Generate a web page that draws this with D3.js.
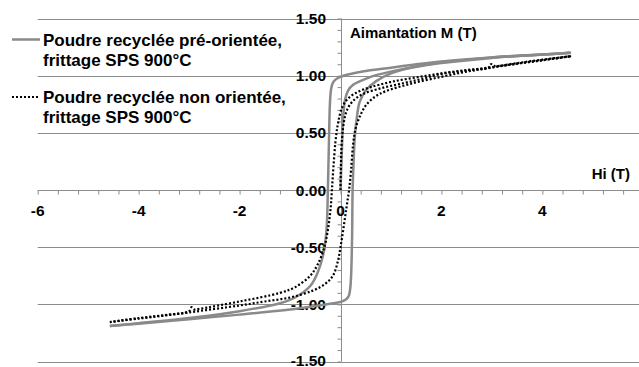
<!DOCTYPE html>
<html>
<head>
<meta charset="utf-8">
<script src="https://cdn.jsdelivr.net/npm/d3@7"></script>
<style>
  html, body { margin: 0; padding: 0; background: #fff; }
  svg { display: block; }
  text { font-family: "Liberation Sans", Arial, sans-serif; font-weight: bold; fill: #000; }
</style>
</head>
<body>
<svg id="chart" width="639" height="367"></svg>
<script>
// Hysteresis loops M(Hi) — pairs are [Hi (T), M (T)]

// Pre-oriented recycled powder, SPS 900°C
const preVirgin = [[0,0],[0.02,0.25],[0.04,0.5],[0.06,0.68],[0.09,0.79],[0.15,0.87],[0.25,0.92],[0.38,0.95],[0.6,0.99],[0.85,1.02],[1.2,1.055],[1.6,1.085],[2.0,1.11],[3.0,1.155],[4.0,1.185],[4.56,1.2]];
const preDown = [[4.56,1.2],[4,1.185],[3,1.16],[2,1.125],[1.5,1.1],[1,1.07],[0.5,1.04],[0.2,1.015],[0,0.99],[-0.1,0.965],[-0.16,0.93],[-0.19,0.87],[-0.21,0.75],[-0.23,0.4],[-0.25,0],[-0.27,-0.3],[-0.3,-0.45],[-0.35,-0.58],[-0.45,-0.72],[-0.6,-0.84],[-0.9,-0.94],[-1.2,-0.99],[-2,-1.06],[-3,-1.12],[-4,-1.165],[-4.57,-1.19]];
const preUp = [[-4.57,-1.19],[-4,-1.17],[-3,-1.13],[-2,-1.09],[-1,-1.045],[-0.5,-1.015],[-0.2,-0.995],[0,-0.98],[0.1,-0.96],[0.16,-0.93],[0.19,-0.87],[0.21,-0.75],[0.23,-0.4],[0.24,0],[0.26,0.25],[0.28,0.44],[0.32,0.62],[0.38,0.77],[0.5,0.87],[0.7,0.95],[1.0,1.02],[1.5,1.08],[2,1.115],[3,1.16],[4,1.185],[4.56,1.2]];

// Non-oriented recycled powder, SPS 900°C
const nonVirgin = [[0,0],[0.01,0.25],[0.03,0.45],[0.07,0.6],[0.13,0.7],[0.25,0.78],[0.45,0.84],[0.8,0.89],[1.2,0.93],[1.6,0.97],[2.0,1.015],[2.5,1.045],[3.0,1.075],[3.5,1.105],[4,1.135],[4.57,1.17]];
const nonDown = [[4.57,1.17],[4,1.14],[3.5,1.11],[3.05,1.085],[2.98,1.1],[2.93,1.07],[2.5,1.05],[2,1.02],[1.5,0.985],[1,0.945],[0.6,0.9],[0.35,0.86],[0.15,0.8],[0.03,0.72],[-0.05,0.58],[-0.1,0.42],[-0.14,0.2],[-0.17,0],[-0.2,-0.18],[-0.25,-0.35],[-0.32,-0.5],[-0.45,-0.65],[-0.6,-0.75],[-0.9,-0.85],[-1.2,-0.9],[-2,-0.975],[-2.8,-1.04],[-2.9,-1.045],[-2.95,-1.025],[-3.0,-1.06],[-3.5,-1.095],[-4,-1.12],[-4.57,-1.155]];
const nonUp = [[-4.57,-1.155],[-4,-1.125],[-3,-1.07],[-2,-1.01],[-1.5,-0.975],[-1,-0.94],[-0.55,-0.88],[-0.3,-0.82],[-0.15,-0.75],[-0.05,-0.62],[0,-0.5],[0.06,-0.33],[0.12,-0.15],[0.17,0],[0.21,0.18],[0.25,0.4],[0.3,0.54],[0.4,0.66],[0.52,0.75],[0.7,0.82],[0.9,0.865],[1.4,0.93],[2,0.99],[2.5,1.035],[3,1.07],[3.5,1.105],[4,1.135],[4.57,1.17]];

// Axis ticks
const xTickLabels = [-6, -4, -2, 0, 2, 4, 6];
const yTickLabels = [1.5, 1.0, 0.5, 0.0, -0.5, -1.0, -1.5];

const legendLabels = [
  ["Poudre recyclée pré-orientée,", "frittage SPS 900°C"],
  ["Poudre recyclée non orientée,", "frittage SPS 900°C"]
];
const xTitle = "Hi (T)";
const yTitle = "Aimantation M (T)";

const svg = d3.select("#chart");

const x = d3.scaleLinear().domain([-6, 6]).range([37.7, 643.3]);
const y = d3.scaleLinear().domain([-1.5, 1.5]).range([361.5, 18.5]);

const gridColor = "#8c8c8c";
const axisColor = "#8c8c8c";

// Plain hyphen for negative numbers
const fmtX = v => d3.format("d")(v).replace("\u2212", "-");
const fmtY = v => d3.format(".2f")(v).replace("\u2212", "-");

// Horizontal gridlines
svg.append("g")
  .selectAll("line")
  .data(yTickLabels.filter(v => v !== 0))
  .join("line")
  .attr("x1", x(-6)).attr("x2", 639)
  .attr("y1", d => Math.round(y(d)) + 0.5).attr("y2", d => Math.round(y(d)) + 0.5)
  .attr("stroke", gridColor).attr("stroke-width", 1);

// X axis through M = 0
const xAxis = d3.axisBottom(x)
  .tickValues(d3.range(-6, 6.01, 0.4))
  .tickSize(4)
  .tickFormat("");
const gx = svg.append("g")
  .attr("transform", `translate(0,${Math.round(y(0)) + 0.5})`)
  .call(xAxis);
gx.select(".domain").attr("stroke", axisColor).attr("d", `M${x(-6)},0H${x(6)}`);
gx.selectAll(".tick line").attr("stroke", axisColor);

// Y axis through Hi = 0
const yAxis = d3.axisLeft(y)
  .tickValues(d3.range(-15, 16).map(v => v / 10))
  .tickSize(4)
  .tickFormat("");
const gy = svg.append("g")
  .attr("transform", `translate(${Math.round(x(0)) + 0.5},0)`)
  .call(yAxis);
gy.select(".domain").attr("stroke", axisColor).attr("d", `M0,${y(1.5)}V${y(-1.5)}`);
gy.selectAll(".tick line").attr("stroke", axisColor);

// Tick labels
svg.append("g")
  .selectAll("text")
  .data(xTickLabels)
  .join("text")
  .attr("x", d => x(d))
  .attr("y", 216)
  .attr("text-anchor", "middle")
  .attr("font-size", 15.5)
  .text(fmtX);

svg.append("g")
  .selectAll("text")
  .data(yTickLabels)
  .join("text")
  .attr("x", 326)
  .attr("y", d => Math.min(y(d) + 5.5, 366))
  .attr("text-anchor", "end")
  .attr("font-size", 15.5)
  .text(fmtY);

// Axis titles
svg.append("text").attr("x", 350).attr("y", 37.5).attr("font-size", 15).text(yTitle);
svg.append("text").attr("x", 630).attr("y", 178.5).attr("text-anchor", "end").attr("font-size", 15).text(xTitle);

// Curves
const line = d3.line()
  .x(d => x(d[0]))
  .y(d => y(d[1]))
  .curve(d3.curveCatmullRom.alpha(0.5));

const solidStyle = { stroke: "#8a8a8a", width: 2.5, dash: null };
const dotStyle = { stroke: "#000", width: 2.2, dash: "2,2" };

const series = [
  { branches: [preVirgin, preDown, preUp], style: solidStyle },
  { branches: [nonVirgin, nonDown, nonUp], style: dotStyle }
];

series.forEach(s => {
  svg.append("g")
    .selectAll("path")
    .data(s.branches)
    .join("path")
    .attr("d", line)
    .attr("fill", "none")
    .attr("stroke", s.style.stroke)
    .attr("stroke-width", s.style.width)
    .attr("stroke-dasharray", s.style.dash);
});

// Legend
const legendRows = [39.5, 97];
const lg = svg.append("g");
series.forEach((s, i) => {
  const yy = legendRows[i];
  lg.append("line")
    .attr("x1", 12).attr("x2", 40)
    .attr("y1", yy).attr("y2", yy)
    .attr("stroke", s.style.stroke)
    .attr("stroke-width", s.style.width)
    .attr("stroke-dasharray", s.style.dash);
  legendLabels[i].forEach((t, j) => {
    lg.append("text")
      .attr("x", 43)
      .attr("y", yy + 6.1 + j * 20)
      .attr("font-size", 17)
      .text(t);
  });
});
</script>
</body>
</html>
